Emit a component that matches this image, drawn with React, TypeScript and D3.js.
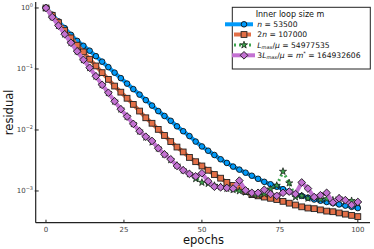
import React from "react";
import * as d3 from "d3";

// epochs at which the residual was recorded
const epochs: number[] = d3.range(0, 101, 2);

// residual values, stored as log10(residual)
const nLog10: number[] = [
  0, -0.11, -0.22, -0.33, -0.44, -0.54, -0.62, -0.7, -0.79, -0.88,
  -0.97, -1.06, -1.15, -1.24, -1.33, -1.42, -1.51, -1.6, -1.69, -1.77,
  -1.85, -1.94, -2.02, -2.1, -2.19, -2.27, -2.34, -2.41, -2.48, -2.54,
  -2.6, -2.65, -2.7, -2.75, -2.8, -2.85, -2.89, -2.93, -2.97, -3.01,
  -3.05, -3.08, -3.11, -3.14, -3.16, -3.18, -3.2, -3.22, -3.24, -3.26, -3.28,
];
const twoNLog10: number[] = [
  0, -0.12, -0.24, -0.37, -0.49, -0.61, -0.72, -0.84, -0.95, -1.06,
  -1.17, -1.28, -1.38, -1.48, -1.58, -1.69, -1.8, -1.89, -1.99, -2.09,
  -2.19, -2.28, -2.36, -2.45, -2.52, -2.59, -2.66, -2.73, -2.79, -2.86,
  -2.91, -2.95, -3.01, -3.06, -3.08, -3.1, -3.12, -3.14, -3.17, -3.2,
  -3.23, -3.26, -3.28, -3.29, -3.31, -3.33, -3.34, -3.36, -3.38, -3.4, -3.42,
];
const lmaxLog10: number[] = [
  0, -0.15, -0.29, -0.43, -0.57, -0.71, -0.85, -0.98, -1.12, -1.26,
  -1.39, -1.53, -1.66, -1.78, -1.9, -2.02, -2.12, -2.2, -2.3, -2.4,
  -2.49, -2.58, -2.66, -2.72, -2.8, -2.86, -2.88, -2.91, -2.93, -2.96,
  -2.98, -3.0, -3.02, -3.06, -3.07, -3.05, -2.97, -2.91, -2.68, -2.87,
  -3.1, -3.08, -3.12, -3.1, -3.14, -3.13, -3.15, -3.12, -3.17, -3.16, -3.2,
];
const threeLmaxLog10: number[] = [
  0, -0.15, -0.29, -0.43, -0.57, -0.71, -0.85, -0.98, -1.12, -1.26,
  -1.39, -1.53, -1.66, -1.78, -1.9, -2.02, -2.11, -2.18, -2.3, -2.4,
  -2.48, -2.59, -2.66, -2.72, -2.76, -2.71, -2.84, -2.93, -2.94, -2.95,
  -2.96, -2.83, -2.99, -3.03, -3.03, -2.98, -3.05, -3.08, -3.03, -3.01,
  -3.05, -2.86, -2.96, -3.1, -3.07, -3.03, -3.19, -3.12, -3.15, -3.23, -3.18,
];

const xTicks: number[] = [0, 25, 50, 75, 100];
const yTickExps: number[] = [0, -1, -2, -3];

const W = 374, H = 249;
const left = 35.7, right = 370, top = 2, bottom = 222.7;

const x = d3.scaleLinear().domain([-3.3, 103.9]).range([left, right]);
const y = d3.scaleLog().domain([Math.pow(10, -3.52), Math.pow(10, 0.098)]).range([bottom, top]);

type Series = {
  key: string;
  vals: number[];
  color: string;
  width: number;
  dash?: string;
  marker: "circle" | "square" | "star" | "diamond";
};

const series: Series[] = [
  { key: "n", vals: nLog10, color: "#009AFA", width: 4, marker: "circle" },
  { key: "2n", vals: twoNLog10, color: "#E36F47", width: 4, marker: "square" },
  { key: "lmax", vals: lmaxLog10, color: "#3EA44E", width: 3, dash: "2,3", marker: "star" },
  { key: "3lmax", vals: threeLmaxLog10, color: "#C371D2", width: 4, marker: "diamond" },
];

function Marker({ kind, cx, cy, color }: { kind: string; cx: number; cy: number; color: string }) {
  if (kind === "circle")
    return <circle cx={cx} cy={cy} r={2.8} fill={color} stroke="#111" strokeWidth={0.9} />;
  if (kind === "square")
    return <rect x={cx - 2.9} y={cy - 2.9} width={5.8} height={5.8} fill={color} stroke="#222" strokeWidth={0.9} />;
  if (kind === "diamond")
    return <rect x={cx - 2.7} y={cy - 2.7} width={5.4} height={5.4} fill={color} stroke="#222" strokeWidth={0.9}
      transform={`rotate(45 ${cx} ${cy})`} />;
  const p = d3.symbol().type(d3.symbolStar).size(16)()!;
  return <path d={p} transform={`translate(${cx},${cy})`} fill={color} stroke="#111" strokeWidth={0.7} />;
}

const fontFam = "DejaVu Sans, sans-serif";

export default function App() {
  const line = d3.line<[number, number]>().x((d) => x(d[0])).y((d) => y(d[1]));
  const legendRows = [
    { s: series[0], yy: 24.3, lineX: [225, 253], label: <><tspan fontStyle="italic">n</tspan> = 53500</> },
    { s: series[1], yy: 34.5, lineX: [234, 251], label: <>2<tspan fontStyle="italic">n</tspan> = 107000</> },
    { s: series[2], yy: 45, lineX: [234, 252], label: <><tspan fontStyle="italic">L</tspan><tspan fontSize={5} dy={1.5} fontStyle="italic">max</tspan><tspan dy={-1.5}>/</tspan><tspan fontStyle="italic">μ</tspan> = 54977535</> },
    { s: series[3], yy: 55.3, lineX: [232, 255], label: <>3<tspan fontStyle="italic">L</tspan><tspan fontSize={5} dy={1.5} fontStyle="italic">max</tspan><tspan dy={-1.5}>/</tspan><tspan fontStyle="italic">μ</tspan> = <tspan fontStyle="italic">m</tspan><tspan fontSize={5} dy={-3}>*</tspan><tspan dy={3}> = 164932606</tspan></> },
  ];
  return (
    <svg width={W} height={H} style={{ position: "absolute", left: 0, top: 0, background: "#fff" }} fontFamily={fontFam}>
      <rect x={0} y={0} width={W} height={H} fill="#fff" />
      <defs>
        <clipPath id="plotclip">
          <rect x={left} y={top} width={right - left} height={bottom - top} />
        </clipPath>
      </defs>
      {/* series */}
      <g clipPath="url(#plotclip)">
        {series.map((s) => {
          const pts: [number, number][] = epochs.map((e, i) => [e, Math.pow(10, s.vals[i])]);
          return (
            <g key={s.key}>
              <path d={line(pts)!} fill="none" stroke={s.color} strokeWidth={s.width}
                strokeDasharray={s.dash} strokeLinejoin="round" />
              {pts.map((p, i) => (
                <Marker key={i} kind={s.marker} cx={x(p[0])} cy={y(p[1])} color={s.color} />
              ))}
            </g>
          );
        })}
      </g>
      {/* axes */}
      <line x1={left} x2={left} y1={top} y2={bottom} stroke="#222" strokeWidth={1.2} />
      <line x1={left} x2={right} y1={bottom} y2={bottom} stroke="#222" strokeWidth={1.2} />
      {xTicks.map((t) => (
        <g key={t}>
          <line x1={x(t)} x2={x(t)} y1={bottom} y2={bottom - 3} stroke="#222" strokeWidth={1} />
          <text x={x(t)} y={232} fontSize={7} fill="#444" textAnchor="middle">{t}</text>
        </g>
      ))}
      {yTickExps.map((e) => {
        const yy = y(Math.pow(10, e));
        return (
          <g key={e}>
            <line x1={left - 1} x2={left + 3} y1={yy} y2={yy} stroke="#222" strokeWidth={1} />
            <text x={33} y={yy + 2.5} fontSize={7} fill="#444" textAnchor="end">
              10<tspan fontSize={5} dy={-3.5}>{e === 0 ? "0" : "−" + Math.abs(e)}</tspan>
            </text>
          </g>
        );
      })}
      <text x={203.5} y={244} fontSize={11.5} textAnchor="middle" fill="#111">epochs</text>
      <text transform={`translate(13,${(top + bottom) / 2}) rotate(-90)`} fontSize={11.5}
        textAnchor="middle" fill="#111">residual</text>
      {/* legend */}
      <rect x={232.3} y={7.3} width={138} height={61.7} fill="#fff" stroke="#222" strokeWidth={1} />
      <text x={290} y={17} fontSize={8} textAnchor="middle" fill="#111">Inner loop size m</text>
      {legendRows.map((r) => (
        <g key={r.s.key}>
          <line x1={r.lineX[0]} x2={r.lineX[1]} y1={r.yy} y2={r.yy} stroke={r.s.color}
            strokeWidth={r.s.width} strokeDasharray={r.s.dash} />
          <Marker kind={r.s.marker} cx={244} cy={r.yy} color={r.s.color} />
          <text x={257.3} y={r.yy + 2.6} fontSize={7.6} fill="#111">{r.label}</text>
        </g>
      ))}
    </svg>
  );
}
